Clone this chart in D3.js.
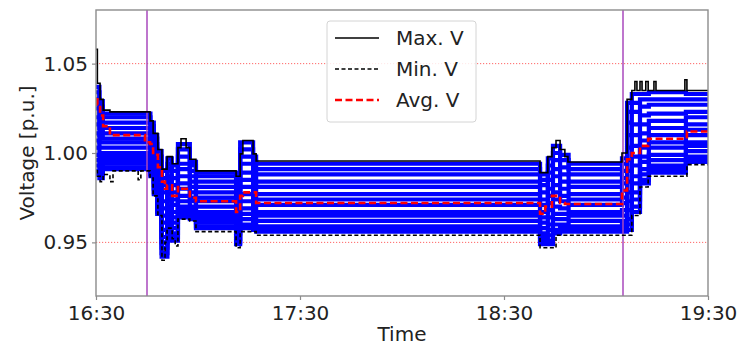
<!DOCTYPE html>
<html>
<head>
<meta charset="utf-8">
<script src="https://cdn.jsdelivr.net/npm/d3@7"></script>
<style>
  body { margin: 0; background: #fff; }
  svg text { font-family: "DejaVu Sans", sans-serif; fill: #222; }
</style>
</head>
<body>
<div id="chart"></div>
<script>
// minutes after 16:30 where the envelope steps change
var envTime = [0, 0.4, 1.2, 2.1, 4.1, 5.0, 12.4, 13.2, 14.4, 15.9, 16.8, 18.2, 19.4, 20.3, 20.9, 22.4, 23.3, 24.1, 25.0, 26.5, 27.6, 29.4,
  41.2, 42.4, 43.2, 46.2, 47.1, 130.6, 132.1, 132.9, 134.1, 135.3, 136.5, 137.9, 138.8, 154.7, 156.2, 157.6, 158.5, 159.1,
  160.0, 160.6, 161.7, 162.4, 164.1, 164.7, 173.2, 173.8, 180];
var maxV = [1.058, 1.039, 1.030, 1.024, 1.023, 1.023, 1.023, 1.023, 1.023, 1.018, 1.011, 1.002, 0.991, 0.991, 0.998, 0.994, 0.994, 1.003, 1.008, 1.003, 0.9965, 0.990,
  0.987, 0.9995, 1.007, 0.9995, 0.9955, 0.989, 0.989, 0.998, 1.003, 1.007, 1.002, 0.998, 0.995, 1.000, 1.030, 1.035, 1.040, 1.035,
  1.040, 1.035, 1.040, 1.035, 1.040, 1.035, 1.041, 1.035, 1.035];
var minV = [0.990, 0.987, 0.984, 0.988, 0.984, 0.990, 0.985, 0.990, 0.990, 0.986, 0.976, 0.965, 0.940, 0.950, 0.958, 0.952, 0.948, 0.963, 0.963, 0.963, 0.962, 0.956,
  0.947, 0.956, 0.956, 0.956, 0.954, 0.947, 0.947, 0.947, 0.947, 0.954, 0.954, 0.954, 0.954, 0.954, 0.954, 0.965, 0.965, 0.965,
  0.981, 0.981, 0.981, 0.987, 0.987, 0.987, 0.987, 0.9935, 0.9935];
var avgV = [1.030, 1.027, 1.021, 1.015, 1.010, 1.010, 1.010, 1.010, 1.006, 1.005, 0.999, 0.992, 0.984, 0.980, 0.982, 0.976, 0.976, 0.981, 0.980, 0.980, 0.975, 0.973,
  0.967, 0.976, 0.978, 0.978, 0.972, 0.966, 0.970, 0.970, 0.976, 0.976, 0.972, 0.9715, 0.9715, 0.979, 0.9965, 1.000, 1.000, 1.000,
  1.004, 1.004, 1.004, 1.008, 1.008, 1.008, 1.008, 1.012, 1.012];

// bus voltages: one row per step time, one column per bus
var busTime = [0, 1, 2, 16, 17, 18, 19.3, 21, 22.3, 24.1, 27.6, 29.4, 41.2, 42.4, 46.2, 47.1,
  130.6, 132.9, 134.4, 136.5, 139, 154.7, 156.2, 157.6, 160, 162.6, 173.5, 180];
var busV = [
  [1.037, 1.034, 1.030, 1.025, 1.020, 1.016, 1.011, 1.007, 1.003, 0.999, 0.996, 0.993, 0.990, 0.988],
  [1.029, 1.026, 1.022, 1.018, 1.014, 1.010, 1.006, 1.003, 0.999, 0.996, 0.993, 0.990, 0.988, 0.986],
  [1.022, 1.020, 1.017, 1.014, 1.011, 1.008, 1.006, 1.003, 1.000, 0.998, 0.996, 0.994, 0.992, 0.991],
  [1.017, 1.015, 1.012, 1.009, 1.007, 1.004, 1.001, 0.999, 0.996, 0.994, 0.991, 0.990, 0.988, 0.987],
  [1.010, 1.008, 1.005, 1.002, 0.998, 0.995, 0.993, 0.990, 0.987, 0.984, 0.982, 0.980, 0.978, 0.977],
  [1.001, 0.998, 0.995, 0.992, 0.989, 0.985, 0.982, 0.979, 0.977, 0.974, 0.971, 0.969, 0.967, 0.966],
  [0.990, 0.986, 0.982, 0.978, 0.973, 0.969, 0.965, 0.961, 0.957, 0.953, 0.950, 0.947, 0.944, 0.942],
  [0.997, 0.994, 0.991, 0.987, 0.984, 0.980, 0.977, 0.974, 0.970, 0.968, 0.965, 0.962, 0.960, 0.959],
  [0.993, 0.990, 0.986, 0.982, 0.978, 0.974, 0.971, 0.967, 0.964, 0.961, 0.958, 0.955, 0.953, 0.951],
  [1.005, 1.002, 0.998, 0.994, 0.991, 0.987, 0.983, 0.980, 0.976, 0.973, 0.970, 0.968, 0.966, 0.964],
  [0.995, 0.993, 0.990, 0.987, 0.984, 0.981, 0.978, 0.975, 0.973, 0.970, 0.968, 0.966, 0.964, 0.963],
  [0.989, 0.987, 0.984, 0.981, 0.978, 0.975, 0.973, 0.970, 0.967, 0.965, 0.963, 0.961, 0.959, 0.958],
  [0.986, 0.983, 0.980, 0.977, 0.973, 0.970, 0.966, 0.963, 0.960, 0.957, 0.955, 0.952, 0.950, 0.949],
  [1.006, 1.002, 0.998, 0.994, 0.989, 0.985, 0.981, 0.977, 0.973, 0.969, 0.966, 0.963, 0.960, 0.958],
  [0.998, 0.995, 0.991, 0.987, 0.984, 0.980, 0.976, 0.973, 0.969, 0.966, 0.963, 0.961, 0.959, 0.957],
  [0.994, 0.991, 0.988, 0.984, 0.981, 0.977, 0.974, 0.971, 0.967, 0.965, 0.962, 0.959, 0.957, 0.956],
  [0.988, 0.985, 0.982, 0.978, 0.974, 0.971, 0.967, 0.964, 0.961, 0.958, 0.955, 0.953, 0.951, 0.949],
  [0.997, 0.993, 0.989, 0.985, 0.980, 0.976, 0.972, 0.968, 0.964, 0.960, 0.957, 0.954, 0.951, 0.949],
  [1.004, 1.000, 0.996, 0.991, 0.987, 0.982, 0.978, 0.974, 0.970, 0.966, 0.963, 0.960, 0.957, 0.955],
  [0.999, 0.996, 0.992, 0.988, 0.984, 0.980, 0.976, 0.973, 0.969, 0.966, 0.963, 0.960, 0.958, 0.956],
  [0.994, 0.991, 0.988, 0.984, 0.981, 0.977, 0.974, 0.971, 0.967, 0.965, 0.962, 0.959, 0.957, 0.956],
  [0.997, 0.994, 0.990, 0.986, 0.983, 0.979, 0.975, 0.972, 0.968, 0.965, 0.962, 0.960, 0.958, 0.956],
  [1.028, 1.023, 1.017, 1.010, 1.003, 0.996, 0.990, 0.984, 0.978, 0.973, 0.968, 0.963, 0.960, 0.957],
  [1.033, 1.028, 1.023, 1.016, 1.010, 1.004, 0.998, 0.993, 0.987, 0.983, 0.978, 0.974, 0.970, 0.967],
  [1.033, 1.030, 1.026, 1.021, 1.016, 1.011, 1.007, 1.003, 0.998, 0.995, 0.991, 0.988, 0.985, 0.983],
  [1.034, 1.030, 1.027, 1.022, 1.018, 1.014, 1.010, 1.006, 1.003, 0.999, 0.996, 0.993, 0.991, 0.989],
  [1.033, 1.030, 1.027, 1.023, 1.020, 1.016, 1.013, 1.010, 1.006, 1.004, 1.001, 0.998, 0.996, 0.995],
  [1.033, 1.030, 1.027, 1.023, 1.020, 1.016, 1.013, 1.010, 1.006, 1.004, 1.001, 0.998, 0.996, 0.995]
];

var eventMin = [15, 155];          // purple markers (16:45, 19:05)
var limitV = [0.95, 1.05];         // red dotted limits
var yTicks = [0.95, 1.00, 1.05];
var xTickMin = [0, 60, 120, 180];
var legendItems = ["Max. V", "Min. V", "Avg. V"];

var W = 743, H = 348;
var margin = {top: 10, right: 35, bottom: 52, left: 96};
var t0 = new Date(2020, 0, 1, 16, 30);
function toDate(m) { return new Date(t0.getTime() + m * 60000); }

var x = d3.scaleTime().domain([toDate(0), toDate(180)]).range([margin.left, W - margin.right]);
var y = d3.scaleLinear().domain([0.92, 1.08]).range([H - margin.bottom, margin.top]);

var svg = d3.select("#chart").append("svg").attr("width", W).attr("height", H);

svg.append("clipPath").attr("id", "clip").append("rect")
  .attr("x", margin.left).attr("y", margin.top)
  .attr("width", W - margin.left - margin.right)
  .attr("height", H - margin.top - margin.bottom);

var plot = svg.append("g").attr("clip-path", "url(#clip)");

var line = d3.line().curve(d3.curveStepAfter)
  .x(function(d) { return x(toDate(d[0])); })
  .y(function(d) { return y(d[1]); });

// limits
plot.selectAll(".limit").data(limitV).enter().append("line")
  .attr("x1", margin.left).attr("x2", W - margin.right)
  .attr("y1", function(d) { return y(d); }).attr("y2", function(d) { return y(d); })
  .attr("stroke", "#ff0000").attr("stroke-opacity", 0.6)
  .attr("stroke-width", 1).attr("stroke-dasharray", "1.2,1.8");

// bus lines
var nBus = busV[0].length;
for (var i = 0; i < nBus; i++) {
  var pts = busTime.map(function(t, k) { return [t, busV[k][i]]; });
  plot.append("path").attr("d", line(pts))
    .attr("fill", "none").attr("stroke", "#0000ff").attr("stroke-width", 4.2);
}

// event markers
plot.selectAll(".event").data(eventMin).enter().append("line")
  .attr("x1", function(d) { return x(toDate(d)); }).attr("x2", function(d) { return x(toDate(d)); })
  .attr("y1", margin.top).attr("y2", H - margin.bottom)
  .attr("stroke", "#a848bc").attr("stroke-width", 1.5);

function envPts(vals) { return envTime.map(function(t, k) { return [t, vals[k]]; }); }

plot.append("path").attr("d", line(envPts(maxV)))
  .attr("fill", "none").attr("stroke", "#000").attr("stroke-width", 1.6);
plot.append("path").attr("d", line(envPts(minV)))
  .attr("fill", "none").attr("stroke", "#000").attr("stroke-width", 1.6).attr("stroke-dasharray", "4,2.5");
plot.append("path").attr("d", line(envPts(avgV)))
  .attr("fill", "none").attr("stroke", "#ff0000").attr("stroke-width", 2.6).attr("stroke-dasharray", "7,3.5");

// frame
svg.append("rect")
  .attr("x", margin.left).attr("y", margin.top)
  .attr("width", W - margin.left - margin.right)
  .attr("height", H - margin.top - margin.bottom)
  .attr("fill", "none").attr("stroke", "#8c8c8c").attr("stroke-width", 1.4);

// axes
var xAxis = d3.axisBottom(x).tickValues(xTickMin.map(toDate))
  .tickFormat(d3.timeFormat("%H:%M")).tickSize(4).tickPadding(6);
var gx = svg.append("g").attr("transform", "translate(0," + (H - margin.bottom) + ")").call(xAxis);
var yAxis = d3.axisLeft(y).tickValues(yTicks).tickFormat(d3.format(".2f")).tickSize(4).tickPadding(4);
var gy = svg.append("g").attr("transform", "translate(" + margin.left + ",0)").call(yAxis);
[gx, gy].forEach(function(g) {
  g.select(".domain").remove();
  g.selectAll(".tick line").attr("stroke", "#8c8c8c").attr("stroke-width", 1.2);
  g.selectAll(".tick text").attr("font-size", 20).attr("fill", "#222")
    .style("font-family", "DejaVu Sans, sans-serif");
});

svg.append("text").attr("x", (margin.left + W - margin.right) / 2).attr("y", 341)
  .attr("text-anchor", "middle").attr("font-size", 20).text("Time");
svg.append("text").attr("transform", "translate(34," + y(1.00) + ") rotate(-90)")
  .attr("text-anchor", "middle").attr("font-size", 20).text("Voltage [p.u.]");

// legend
var lg = svg.append("g").attr("transform", "translate(327,21)");
lg.append("rect").attr("width", 149).attr("height", 101).attr("rx", 3)
  .attr("fill", "#fff").attr("fill-opacity", 0.85).attr("stroke", "#d4d4d4");
var lstyle = [
  {stroke: "#000", width: 1.6, dash: null},
  {stroke: "#000", width: 1.6, dash: "4,2.5"},
  {stroke: "#ff0000", width: 2.6, dash: "7,3.5"}
];
legendItems.forEach(function(name, i) {
  var cy = 17 + i * 31;
  lg.append("line").attr("x1", 8).attr("x2", 52).attr("y1", cy).attr("y2", cy)
    .attr("stroke", lstyle[i].stroke).attr("stroke-width", lstyle[i].width)
    .attr("stroke-dasharray", lstyle[i].dash);
  lg.append("text").attr("x", 69).attr("y", cy + 7).attr("font-size", 20).text(name);
});
</script>
</body>
</html>
